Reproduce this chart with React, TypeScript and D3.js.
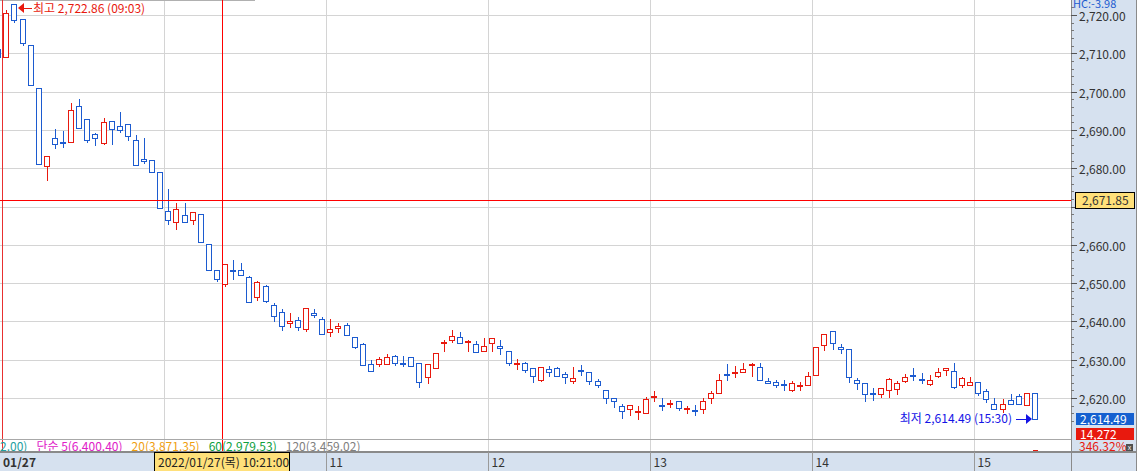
import React from "react";
import * as d3 from "d3";

// 3-minute KOSPI candles, 2022/01/27 (slot -1 = last candle of previous day)
const FIRST_SLOT = -1;

const opens = [
  2711.1, 2709.0, 2722.86, 2718.9, 2712.1, 2700.9, 2680.5, 2687.8, 2686.9, 2686.9,
  2696.2, 2692.8, 2688.8, 2686.7, 2692.2, 2690.9, 2691.5, 2687.3, 2682.3, 2682.1,
  2678.9, 2668.8, 2665.9, 2667.7, 2666.4, 2668.0, 2660.1, 2653.3, 2649.7, 2653.4,
  2653.3, 2651.5, 2646.3, 2649.2, 2644.2, 2642.4, 2639.5, 2640.3, 2637.9, 2642.1,
  2640.5, 2637.2, 2638.3, 2639.0, 2635.8, 2634.0, 2628.8, 2628.8, 2628.8, 2630.9,
  2629.1, 2630.6, 2629.1, 2625.4, 2627.8, 2634.6, 2635.1, 2635.8, 2634.7, 2634.0,
  2632.4, 2634.3, 2633.5, 2632.2, 2629.0, 2629.1, 2627.8, 2624.6, 2627.5, 2627.8,
  2626.2, 2624.4, 2627.2, 2626.7, 2624.4, 2622.0, 2620.0, 2617.8, 2617.0, 2616.4,
  2616.0, 2620.4, 2618.2, 2618.4, 2619.1, 2617.0, 2616.8, 2617.0, 2620.0, 2621.2,
  2626.2, 2626.4, 2626.7, 2628.7, 2628.0, 2624.4, 2624.1, 2623.6, 2622.0, 2623.1,
  2623.3, 2625.9, 2633.8, 2637.4, 2633.2, 2632.7, 2624.6, 2623.8, 2621.2, 2621.0,
  2622.0, 2622.3, 2624.4, 2625.9, 2624.9, 2623.6, 2625.7, 2627.2, 2627.0, 2623.3,
  2623.3, 2624.1, 2621.7, 2618.4, 2617.0, 2619.4, 2620.4, 2618.1, 2621.2,
];
const highs = [
  2711.1, 2721.3, 2722.86, 2718.9, 2712.1, 2700.9, 2683.1, 2690.2, 2689.7, 2697.0,
  2698.1, 2692.8, 2689.2, 2693.0, 2692.2, 2694.6, 2691.5, 2688.6, 2687.8, 2682.1,
  2678.9, 2674.5, 2671.0, 2671.0, 2668.5, 2668.0, 2660.1, 2653.3, 2654.9, 2656.0,
  2655.2, 2651.8, 2650.5, 2649.4, 2644.7, 2643.2, 2642.1, 2641.1, 2643.4, 2643.2,
  2641.1, 2640.5, 2639.5, 2639.5, 2635.8, 2634.3, 2629.8, 2630.6, 2631.4, 2631.2,
  2630.9, 2630.6, 2629.1, 2628.8, 2631.7, 2635.1, 2637.7, 2637.2, 2635.1, 2634.8,
  2635.6, 2635.6, 2635.1, 2632.2, 2630.1, 2629.3, 2627.8, 2628.0, 2628.3, 2628.0,
  2626.7, 2628.0, 2628.5, 2626.7, 2624.9, 2622.0, 2620.0, 2618.4, 2618.1, 2617.8,
  2620.2, 2621.7, 2620.0, 2619.4, 2619.1, 2617.8, 2618.1, 2620.0, 2621.7, 2626.2,
  2628.8, 2628.3, 2629.1, 2629.1, 2629.1, 2625.1, 2624.6, 2624.6, 2624.4, 2624.1,
  2626.7, 2633.2, 2636.6, 2637.4, 2634.0, 2632.7, 2625.1, 2623.8, 2622.5, 2622.5,
  2625.1, 2624.4, 2626.2, 2627.8, 2626.4, 2625.9, 2627.8, 2627.8, 2629.1, 2625.4,
  2625.4, 2624.1, 2622.3, 2620.0, 2619.7, 2621.0, 2621.0, 2621.2, 2621.2,
];
const lows = [
  2709.0, 2709.0, 2718.1, 2712.2, 2701.6, 2681.0, 2676.9, 2685.4, 2685.6, 2686.9,
  2690.6, 2686.9, 2686.1, 2686.3, 2686.4, 2689.5, 2687.4, 2680.9, 2681.3, 2678.9,
  2669.5, 2665.4, 2664.0, 2665.9, 2665.4, 2660.7, 2653.3, 2650.6, 2649.3, 2651.2,
  2652.0, 2645.0, 2645.5, 2645.0, 2640.0, 2637.7, 2638.5, 2637.7, 2637.4, 2641.1,
  2636.6, 2636.1, 2637.2, 2636.4, 2633.0, 2628.5, 2627.0, 2628.3, 2628.8, 2628.5,
  2628.3, 2628.3, 2622.8, 2623.8, 2627.8, 2632.2, 2634.6, 2634.3, 2632.4, 2631.9,
  2632.2, 2632.2, 2631.4, 2628.5, 2627.5, 2626.7, 2624.1, 2624.4, 2625.7, 2625.7,
  2623.8, 2623.8, 2625.9, 2623.6, 2622.8, 2618.6, 2617.6, 2614.8, 2615.5, 2614.4,
  2616.0, 2619.1, 2616.8, 2617.6, 2616.8, 2616.2, 2615.5, 2616.2, 2618.6, 2621.2,
  2624.6, 2625.4, 2626.7, 2625.7, 2624.6, 2623.8, 2623.0, 2622.0, 2621.7, 2622.0,
  2623.3, 2625.9, 2632.5, 2632.7, 2631.7, 2624.1, 2622.3, 2619.1, 2619.4, 2620.2,
  2620.2, 2621.0, 2624.1, 2624.6, 2623.8, 2623.3, 2625.4, 2625.9, 2622.5, 2622.8,
  2623.3, 2620.7, 2618.9, 2617.0, 2616.3, 2618.4, 2618.4, 2618.1, 2614.49,
];
const closes = [
  2709.0, 2720.4, 2718.6, 2712.6, 2701.6, 2681.0, 2683.1, 2686.4, 2686.9, 2695.1,
  2690.6, 2687.4, 2687.8, 2692.0, 2690.2, 2689.9, 2688.3, 2680.9, 2681.8, 2678.9,
  2669.5, 2666.4, 2669.3, 2665.9, 2668.5, 2660.7, 2653.3, 2651.0, 2654.9, 2653.2,
  2652.0, 2645.0, 2650.2, 2645.3, 2641.3, 2638.7, 2640.0, 2638.5, 2643.4, 2641.6,
  2636.6, 2637.9, 2638.8, 2636.4, 2633.2, 2628.5, 2627.0, 2630.1, 2630.6, 2629.1,
  2629.1, 2628.3, 2624.1, 2628.8, 2631.7, 2634.7, 2636.1, 2634.3, 2634.9, 2631.9,
  2633.5, 2635.6, 2633.0, 2629.1, 2629.1, 2627.3, 2625.7, 2628.0, 2626.7, 2625.7,
  2625.4, 2625.1, 2627.2, 2624.4, 2623.3, 2620.0, 2619.1, 2616.5, 2618.1, 2616.6,
  2619.7, 2620.5, 2618.2, 2618.6, 2617.3, 2617.4, 2616.8, 2619.1, 2621.2, 2624.6,
  2626.2, 2626.9, 2627.5, 2628.8, 2624.6, 2623.8, 2623.3, 2623.6, 2623.8, 2623.3,
  2625.7, 2633.2, 2636.6, 2634.3, 2632.7, 2625.4, 2623.8, 2621.0, 2621.2, 2622.5,
  2624.9, 2623.8, 2625.4, 2625.9, 2624.9, 2624.6, 2626.7, 2627.8, 2622.8, 2625.1,
  2624.1, 2621.2, 2619.7, 2617.0, 2618.4, 2618.4, 2618.4, 2621.2, 2614.49,
];

const yTicks = [2620, 2630, 2640, 2650, 2660, 2670, 2680, 2690, 2700, 2710, 2720];
const hourSlots = [20, 40, 60, 80, 100, 120];
const hourLabels = ["", "11", "12", "13", "14", "15"]; // 10시 label sits under the date box
const maLabels = ["2.00)", "단순 5(6,400.40)", "20(3,871.35)", "60(2,979.53)", "120(3,459.02)"];
const maColors = ["#22a0a0", "#e020c8", "#f0a010", "#10a040", "#808080"];

const highValue = 2722.86;
const highSlot = 1;
const lowValue = 2614.49;
const lowSlot = 127;
const crossValue = 2671.85;
const crossSlot = 26.6;
const lastVolume = "14,272";
const volumeRatio = "346.32%";
const hcText = "HC:-3.98";

const W = 1142;
const H = 471;
const PLOT_R = 1071;
const PANEL_B = 452;
const UP = "#e8190e";
const DOWN = "#1c5bd0";
const AXIS_BG = "#d6e1ef";
const FONT = "'Noto Sans CJK KR', 'DejaVu Sans', sans-serif";

export default function App() {
  const x = d3.scaleLinear().domain([0, 127]).range([6.3, 1035]);
  const y = d3.scaleLinear().domain([2620, 2720]).range([398, 15]);
  const fmt = d3.format(",.2f");
  const px = (v: number) => Math.round(v) + 0.5;

  const candles = opens.map((o, k) => ({
    slot: k + FIRST_SLOT,
    o,
    h: highs[k],
    l: lows[k],
    c: closes[k],
  }));

  const minorTicks = d3.range(2614, 2724, 2);
  const dayX = px(x(-0.5) - 0.5);
  const crossX = px(x(crossSlot));
  const crossY = Math.ceil(y(crossValue)) + 0.5;

  const hiTipX = Math.round(x(highSlot)) + 4;
  const hiY = 8;
  const loTipX = Math.round(x(lowSlot)) - 3;
  const loY = Math.round(y(lowValue));

  return (
    <svg
      width={W}
      height={H}
      style={{ position: "absolute", left: 0, top: 0, fontFamily: FONT }}
      shapeRendering="crispEdges"
    >
      <rect x={0} y={0} width={W} height={H} fill="#fff" />

      {/* grid */}
      {yTicks.map((t) => (
        <line key={t} x1={0} x2={PLOT_R} y1={px(y(t))} y2={px(y(t))} stroke="#d4d4d4" />
      ))}
      {hourSlots.map((s) => (
        <line key={s} x1={px(x(s) - 4)} x2={px(x(s) - 4)} y1={0} y2={PANEL_B} stroke="#d4d4d4" />
      ))}
      <line x1={0} x2={255} y1={0.5} y2={0.5} stroke="#b0b0b0" />

      {/* day separator */}
      <line x1={dayX} x2={dayX} y1={0} y2={PANEL_B} stroke="#e83030" />

      {/* candles */}
      {candles.map((d) => {
        const cx = Math.round(x(d.slot));
        const up = d.c > d.o;
        const col = up ? UP : DOWN;
        const yo = y(d.o);
        const yc = y(d.c);
        const top = Math.round(Math.min(yo, yc));
        const bot = Math.round(Math.max(yo, yc));
        return (
          <g key={d.slot}>
            <line
              x1={cx + 0.5}
              x2={cx + 0.5}
              y1={Math.round(y(d.h))}
              y2={Math.round(y(d.l)) + 1}
              stroke={col}
            />
            {bot - top < 2 ? (
              <rect x={cx - 3} y={top - 0.5} width={6} height={2} fill={col} />
            ) : (
              <rect
                x={cx - 2.5}
                y={top + 0.5}
                width={5}
                height={bot - top}
                fill="#fff"
                stroke={col}
              />
            )}
          </g>
        );
      })}

      {/* crosshair */}
      <line x1={0} x2={PLOT_R} y1={crossY} y2={crossY} stroke="#ff0000" />
      <line x1={crossX} x2={crossX} y1={0} y2={PANEL_B} stroke="#ff0000" />

      {/* high annotation */}
      <g fill={UP} stroke="none">
        <path d={`M${hiTipX},${hiY} L${hiTipX + 6},${hiY - 5} L${hiTipX + 6},${hiY + 5} Z`} shapeRendering="auto" />
        <rect x={hiTipX + 6} y={hiY - 0.5} width={8} height={1.5} />
        <text x={hiTipX + 15} y={hiY + 4.5} fontSize={12} shapeRendering="auto">
          {`최고 ${fmt(highValue)} (09:03)`}
        </text>
      </g>

      {/* low annotation */}
      <g fill="#1414e6" stroke="none">
        <path d={`M${loTipX},${loY} L${loTipX - 6},${loY - 5} L${loTipX - 6},${loY + 5} Z`} shapeRendering="auto" />
        <rect x={loTipX - 16} y={loY - 0.5} width={10} height={1.5} />
        <text x={loTipX - 20} y={loY + 4} fontSize={12} textAnchor="end">
          {`최저 ${fmt(lowValue)} (15:30)`}
        </text>
      </g>

      {/* volume panel */}
      <line x1={0} x2={PLOT_R} y1={439.5} y2={439.5} stroke="#a8a8a8" />
      <rect x={Math.round(x(lowSlot)) - 2} y={449.5} width={5} height={1.5} fill={UP} />
      <text x={0} y={451} fontSize={12}>
        {maLabels.map((t, i) => (
          <tspan key={t} dx={i === 0 ? 0 : 9} fill={maColors[i]}>
            {t}
          </tspan>
        ))}
      </text>

      {/* bottom time axis */}
      <rect x={0} y={PANEL_B} width={1137} height={H - PANEL_B} fill={AXIS_BG} />
      <line x1={0} x2={1137} y1={PANEL_B - 0.5} y2={PANEL_B - 0.5} stroke="#8a8a8a" strokeWidth={2} />
      <text x={3} y={467} fontSize={12} fontWeight="bold" fill="#333">01/27</text>
      {hourSlots.map((s, i) => (
        <g key={s}>
          <line x1={px(x(s) - 4)} x2={px(x(s) - 4)} y1={PANEL_B} y2={H} stroke="#9a9a9a" />
          {hourLabels[i] && (
            <text x={px(x(s) - 4) + 3} y={467} fontSize={12} fill="#333">
              {hourLabels[i]}
            </text>
          )}
        </g>
      ))}
      <rect x={154.5} y={452.5} width={135} height={19} fill="#ffe07a" stroke="#000" />
      <text x={158} y={467} fontSize={12} fill="#222">2022/01/27(목) 10:21:00</text>

      {/* right price axis */}
      <rect x={PLOT_R} y={0} width={1137 - PLOT_R} height={H} fill={AXIS_BG} />
      <line x1={PLOT_R + 0.5} x2={PLOT_R + 0.5} y1={0} y2={H} stroke="#8a8a8a" />
      <line x1={1136.5} x2={1136.5} y1={0} y2={H} stroke="#8a8a8a" />
      <line x1={PLOT_R} x2={1137} y1={PANEL_B - 0.5} y2={PANEL_B - 0.5} stroke="#8a8a8a" strokeWidth={2} />
      {minorTicks.map((t) => (
        <line key={t} x1={PLOT_R} x2={PLOT_R + 3} y1={px(y(t))} y2={px(y(t))} stroke="#777" />
      ))}
      {yTicks.map((t) => (
        <g key={t}>
          <line x1={PLOT_R} x2={PLOT_R + 6} y1={px(y(t))} y2={px(y(t))} stroke="#555" />
          {Math.abs(y(t) - crossY) > 12 && (
            <text x={1079} y={px(y(t)) + 5} fontSize={12} fill="#333">
              {fmt(t)}
            </text>
          )}
        </g>
      ))}
      <text x={1073} y={8} fontSize={11} fill={DOWN}>{hcText}</text>

      <rect x={1075.5} y={192.5} width={59} height={16} fill="#ffe07a" stroke="#000" />
      <text x={1082} y={205} fontSize={12} fill="#333">{fmt(crossValue)}</text>

      <rect x={1076} y={413} width={58} height={12} fill="#1560d0" />
      <text x={1080} y={424} fontSize={12} fill="#fff">{fmt(lowValue)}</text>
      <rect x={1076} y={428} width={58} height={12} fill="#e8190e" />
      <text x={1080} y={439} fontSize={12} fill="#fff">{lastVolume}</text>
      <text x={1079} y={451} fontSize={12} fill="#e8190e">{volumeRatio}</text>
      <rect x={1126} y={444} width={7} height={7} fill="#505050" />
      <text x={1129.5} y={450} fontSize={7} fill="#fff" textAnchor="middle">x</text>

      <rect x={1137} y={0} width={5} height={H} fill="#fff" />
    </svg>
  );
}
